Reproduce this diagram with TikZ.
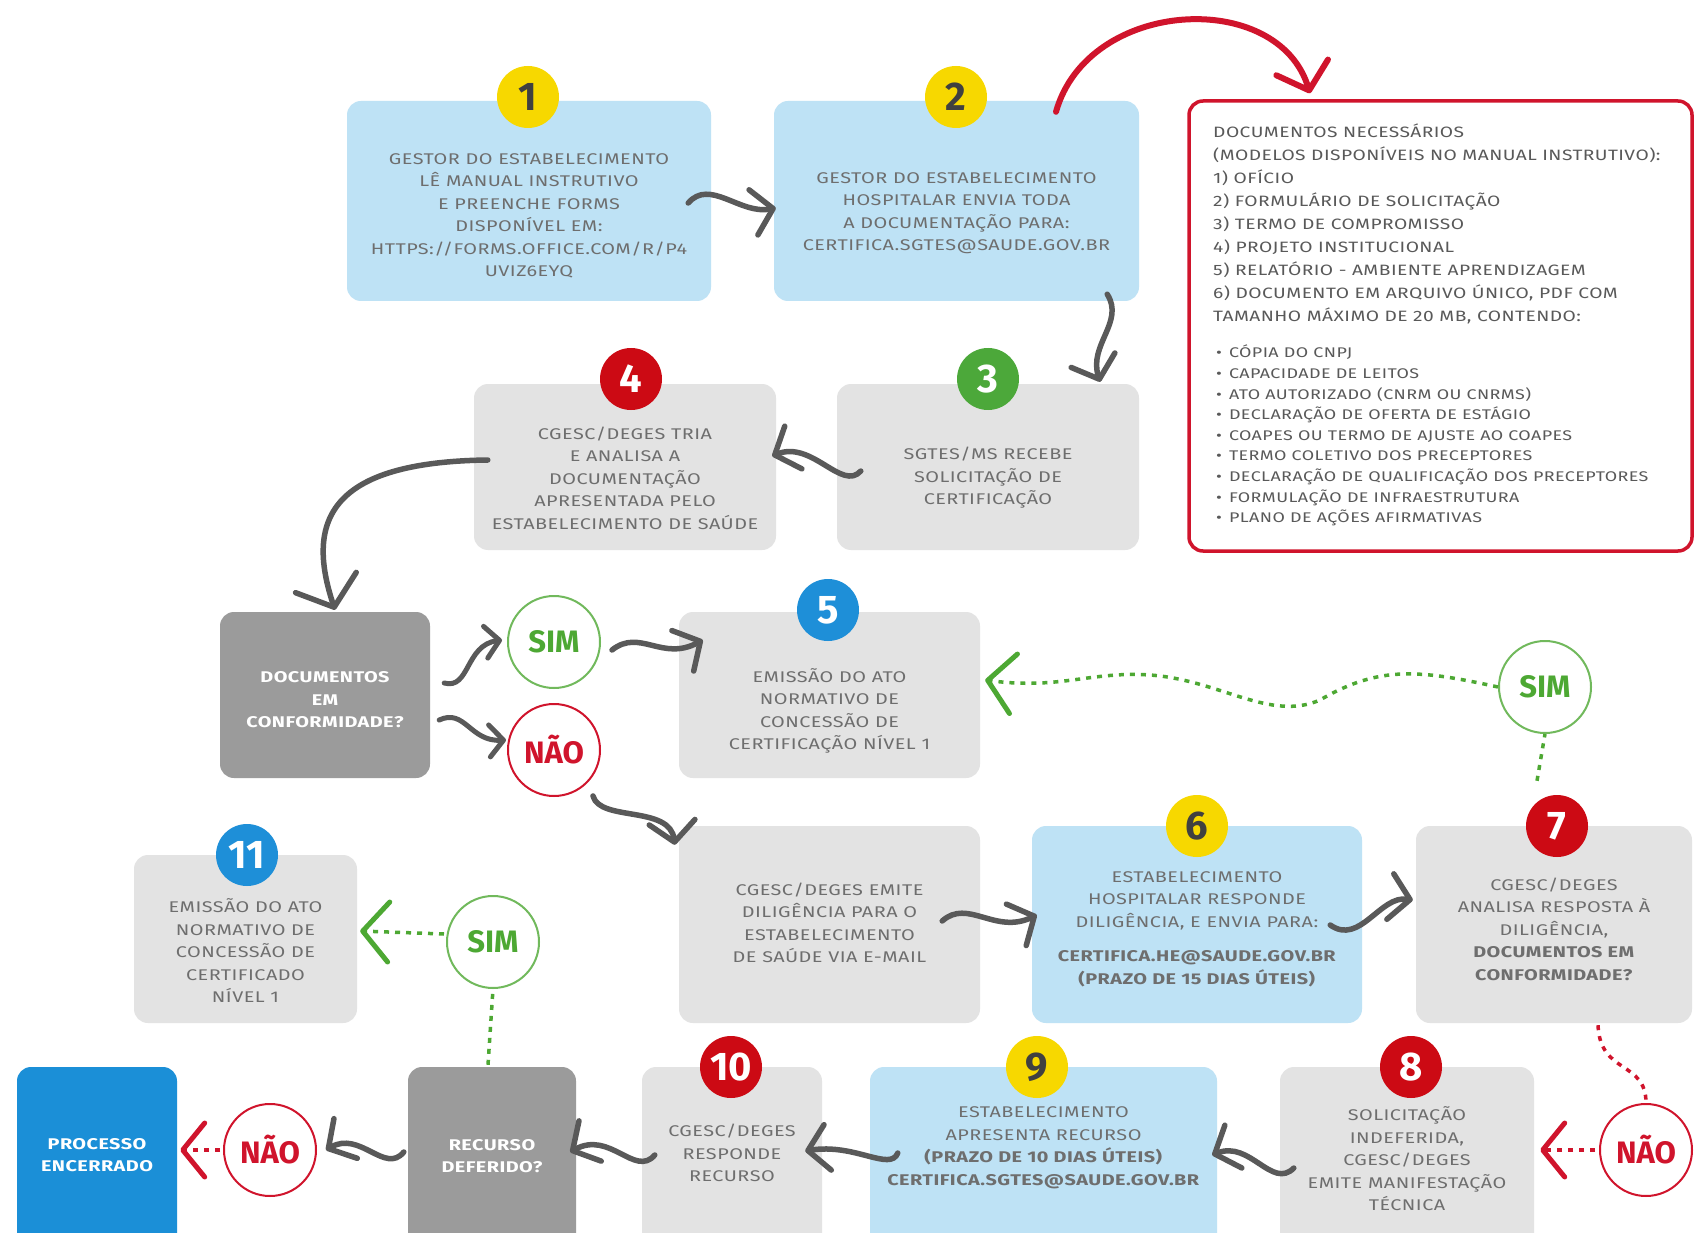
\documentclass[tikz,border=0pt]{standalone}
\usepackage{fontspec}
\setmainfont{Fira Sans}[FakeStretch=1.28,LetterSpace=3]
\newfontfamily\plainf{Fira Sans}
\usetikzlibrary{arrows.meta}
\definecolor{boxgray}{HTML}{E3E3E3}
\definecolor{boxblue}{HTML}{BEE2F5}
\definecolor{darkbox}{HTML}{9B9B9B}
\definecolor{peblue}{HTML}{1B8FD7}
\definecolor{txt}{HTML}{6E6E6E}
\definecolor{arr}{HTML}{595959}
\definecolor{myred}{HTML}{D0142C}
\definecolor{mygreen}{HTML}{4DA833}
\definecolor{myyellow}{HTML}{F7D800}
\definecolor{bred}{HTML}{CC0A14}
\definecolor{bgreen}{HTML}{4CA83A}
\definecolor{bblue}{HTML}{1E8FD8}
\begin{document}
\begin{tikzpicture}[x=1pt,y=-1pt,
  shapebox/.style={rounded corners=14pt,inner sep=0pt},
  graybox/.style={shapebox,fill=boxgray},
  bluebox/.style={shapebox,fill=boxblue},
  dkbox/.style={shapebox,fill=darkbox},
  pebox/.style={shapebox,fill=peblue},
  btext/.style={align=center,text=txt,font=\fontsize{15.5}{22.5}\selectfont,inner sep=0pt},
  wtext/.style={align=center,text=white,font=\fontsize{15.5}{22.5}\selectfont\bfseries,inner sep=0pt},
  badge/.style={circle,minimum size=62pt,inner sep=0pt,font=\plainf\fontsize{40}{40}\selectfont\bfseries},
  ybadge/.style={badge,fill=myyellow,text=black!75},
  rbadge/.style={badge,fill=bred,text=white},
  gbadge/.style={badge,fill=bgreen,text=white},
  bbadge/.style={badge,fill=bblue,text=white},
  yes/.style={circle,draw=mygreen!80,line width=2pt,fill=white,minimum size=92pt,inner sep=0pt,text=mygreen,font=\plainf\fontsize{31}{31}\selectfont\bfseries},
  no/.style={circle,draw=myred,line width=2pt,fill=white,minimum size=92pt,inner sep=0pt,text=myred,font=\plainf\fontsize{31}{31}\selectfont\bfseries},
  squig/.style={draw=arr,line width=5.5pt,line cap=round,-{Straight Barb[length=20pt,width=46pt,round]}},
  smallsquig/.style={draw=arr,line width=5pt,line cap=round,-{Straight Barb[length=14pt,width=32pt,round]}},
  gdots/.style={draw=mygreen,line width=3.5pt,dash pattern=on 5pt off 6pt},
  rdots/.style={draw=myred,line width=3.5pt,dash pattern=on 5pt off 6pt},
  gtip/.style={-{Straight Barb[length=26pt,width=60pt,round,line width=5pt]}},
  rtip/.style={-{Straight Barb[length=22pt,width=54pt,round,line width=5pt]}},
]
\useasboundingbox (0,0) rectangle (1698,1233);
\clip (0,0) rectangle (1698,1233);
\fill[white] (0,0) rectangle (1698,1233);

% ---------- boxes ----------
\node[bluebox,minimum width=364pt,minimum height=200pt] (b1) at (529,201) {};
\node[bluebox,minimum width=365pt,minimum height=200pt] (b2) at (956.5,201) {};
\node[shapebox,draw=myred,line width=3.5pt,fill=white,minimum width=503pt,minimum height=450pt] (req) at (1440.5,326) {};
\node[graybox,minimum width=302pt,minimum height=166pt] (b3) at (988,467) {};
\node[graybox,minimum width=302pt,minimum height=166pt] (b4) at (625,467) {};
\node[dkbox,minimum width=210pt,minimum height=166pt] (docs) at (325,695) {};
\node[graybox,minimum width=301pt,minimum height=166pt] (b5) at (829.5,695) {};
\node[graybox,minimum width=301pt,minimum height=197pt] (bemite) at (829.5,924.5) {};
\node[bluebox,minimum width=330pt,minimum height=197pt] (b6) at (1197,924.5) {};
\node[graybox,minimum width=276pt,minimum height=197pt] (b7) at (1554,924.5) {};
\node[graybox,minimum width=223pt,minimum height=168pt] (b11) at (245.5,939) {};
\node[pebox,minimum width=160pt,minimum height=180pt] (pe) at (97,1157) {};
\node[dkbox,minimum width=168pt,minimum height=180pt] (rec) at (492,1157) {};
\node[graybox,minimum width=180pt,minimum height=180pt] (b10) at (732,1157) {};
\node[bluebox,minimum width=347pt,minimum height=180pt] (b9) at (1043.5,1157) {};
\node[graybox,minimum width=254pt,minimum height=180pt] (b8) at (1407,1157) {};

% ---------- texts ----------
\node[btext] (t1) at (529,216) {GESTOR DO ESTABELECIMENTO\\LÊ MANUAL INSTRUTIVO\\E PREENCHE FORMS\\DISPONÍVEL EM:\\HTTPS://FORMS.OFFICE.COM/R/P4\\UVIZ6EYQ};
\node[btext] (t2) at (956.5,213) {GESTOR DO ESTABELECIMENTO\\HOSPITALAR ENVIA TODA\\A DOCUMENTAÇÃO PARA:\\CERTIFICA.SGTES@SAUDE.GOV.BR};
\node[btext] (t3) at (988,478) {SGTES/MS RECEBE\\SOLICITAÇÃO DE\\CERTIFICAÇÃO};
\node[btext] (t4) at (625,478) {CGESC/DEGES TRIA\\E ANALISA A\\DOCUMENTAÇÃO\\APRESENTADA PELO\\ESTABELECIMENTO DE SAÚDE};
\node[wtext] (tdocs) at (325,700) {DOCUMENTOS\\EM\\CONFORMIDADE?};
\node[btext] (t5) at (829.5,711) {EMISSÃO DO ATO\\NORMATIVO DE\\CONCESSÃO DE\\CERTIFICAÇÃO NÍVEL 1};
\node[btext] (temite) at (829.5,923) {CGESC/DEGES EMITE\\DILIGÊNCIA PARA O\\ESTABELECIMENTO\\DE SAÚDE VIA E-MAIL};
\node[btext] (t6) at (1197,929) {ESTABELECIMENTO\\HOSPITALAR RESPONDE\\DILIGÊNCIA, E ENVIA PARA:\\[12pt]\textbf{CERTIFICA.HE@SAUDE.GOV.BR}\\\textbf{(PRAZO DE 15 DIAS ÚTEIS)}};
\node[btext] (t7) at (1554,929) {CGESC/DEGES\\ANALISA RESPOSTA À\\DILIGÊNCIA,\\\textbf{DOCUMENTOS EM}\\\textbf{CONFORMIDADE?}};
\node[btext] (t11) at (245.5,951) {EMISSÃO DO ATO\\NORMATIVO DE\\CONCESSÃO DE\\CERTIFICADO\\NÍVEL 1};
\node[wtext] (tpe) at (97,1155) {PROCESSO\\ENCERRADO};
\node[wtext] (trec) at (492,1156) {RECURSO\\DEFERIDO?};
\node[btext] (t10) at (732,1153) {CGESC/DEGES\\RESPONDE\\RECURSO};
\node[btext] (t9) at (1043.5,1148) {ESTABELECIMENTO\\APRESENTA RECURSO\\\textbf{(PRAZO DE 10 DIAS ÚTEIS)}\\\textbf{CERTIFICA.SGTES@SAUDE.GOV.BR}};
\node[btext] (t8) at (1407,1159) {SOLICITAÇÃO\\INDEFERIDA,\\CGESC/DEGES\\EMITE MANIFESTAÇÃO\\TÉCNICA};

\node[anchor=north west,align=left,text=black!65,inner sep=0pt,font=\fontsize{15}{23}\selectfont] (treq) at (1213,124) {DOCUMENTOS NECESSÁRIOS\\(MODELOS DISPONÍVEIS NO MANUAL INSTRUTIVO):\\1) OFÍCIO\\2) FORMULÁRIO DE SOLICITAÇÃO\\3) TERMO DE COMPROMISSO\\4) PROJETO INSTITUCIONAL\\5) RELATÓRIO - AMBIENTE APRENDIZAGEM\\6) DOCUMENTO EM ARQUIVO ÚNICO, PDF COM\\TAMANHO MÁXIMO DE 20 MB, CONTENDO:};
\node[anchor=north west,align=left,text=black!65,inner sep=0pt,font=\fontsize{14}{20.6}\selectfont] (tlist) at (1216,345) {\textbullet\enspace CÓPIA DO CNPJ\\\textbullet\enspace CAPACIDADE DE LEITOS\\\textbullet\enspace ATO AUTORIZADO (CNRM OU CNRMS)\\\textbullet\enspace DECLARAÇÃO DE OFERTA DE ESTÁGIO\\\textbullet\enspace COAPES OU TERMO DE AJUSTE AO COAPES\\\textbullet\enspace TERMO COLETIVO DOS PRECEPTORES\\\textbullet\enspace DECLARAÇÃO DE QUALIFICAÇÃO DOS PRECEPTORES\\\textbullet\enspace FORMULAÇÃO DE INFRAESTRUTURA\\\textbullet\enspace PLANO DE AÇÕES AFIRMATIVAS};

% ---------- badges ----------
\node[ybadge] (n1) at (528,97) {1};
\node[ybadge] (n2) at (956,97) {2};
\node[gbadge] (n3) at (988,379) {3};
\node[rbadge] (n4) at (631,379) {4};
\node[bbadge] (n5) at (828,610) {5};
\node[ybadge] (n6) at (1197,826) {6};
\node[rbadge] (n7) at (1557,826) {7};
\node[bbadge] (n11) at (247,855) {11};
\node[rbadge] (n10) at (731,1067) {10};
\node[ybadge] (n9) at (1037,1067) {9};
\node[rbadge] (n8) at (1411,1067) {8};

% ---------- yes / no circles ----------
\node[yes] (sim1) at (554,642) {SIM};
\node[no] (nao1) at (554,750) {NÃO};
\node[yes] (sim2) at (1545,687) {SIM};
\node[yes] (sim3) at (493,942) {SIM};
\node[no] (nao2) at (270,1150) {NÃO};
\node[no] (nao3) at (1646,1150) {NÃO};

% ---------- connectors ----------
\draw[squig] ([shift={(-23,2)}]b1.east) .. controls (710,178) and (740,215) .. ([shift={(2,7)}]b2.west);
\draw[squig] ([shift={(-32,-7)}]b2.south east) .. controls (1125,322) and (1088,345) .. ([shift={(-39,-2)}]b3.north east);
\draw[squig] ([shift={(24,4)}]b3.west) .. controls (842,492) and (812,440) .. ([shift={(-4,-11)}]b4.east);
\draw[squig,-{Straight Barb[length=26pt,width=64pt,round]}] ([shift={(14,-7)}]b4.west) .. controls (330,462) and (305,520) .. ([shift={(10,-2)}]docs.north);
\draw[smallsquig] ([shift={(14,-12)}]docs.east) .. controls (470,690) and (465,645) .. ([shift={(-5,-2)}]sim1.west);
\draw[smallsquig] ([shift={(9,25)}]docs.east) .. controls (465,708) and (470,742) .. ([shift={(-1,-10)}]nao1.west);
\draw[squig] ([shift={(11,8)}]sim1.east) .. controls (640,628) and (662,662) .. ([shift={(24,-55)}]b5.west);
\draw[squig] ([shift={(39,-1)}]nao1.south) .. controls (600,822) and (670,805) .. ([shift={(-4,19)}]bemite.north west);
\draw[squig] ([shift={(-38,-3.5)}]bemite.east) .. controls (968,898) and (995,935) .. ([shift={(5,-9.5)}]b6.west);
\draw[squig] ([shift={(-32,0.5)}]b6.east) .. controls (1360,946) and (1380,895) .. ([shift={(-3,-24.5)}]b7.west);
\draw[squig] ([shift={(14,11)}]b8.west) .. controls (1272,1190) and (1250,1140) .. ([shift={(-5,-2)}]b9.east);
\draw[squig] ([shift={(28,-4)}]b9.west) .. controls (890,1172) and (855,1143) .. ([shift={(-17,-6)}]b10.east);
\draw[squig] ([shift={(13,-2)}]b10.west) .. controls (635,1178) and (610,1130) .. ([shift={(-6,-5)}]rec.east);
\draw[squig] ([shift={(-4,-5)}]rec.west) .. controls (385,1175) and (360,1130) .. ([shift={(9,0)}]nao2.east);

% red arc to requirements box
\draw[draw=myred,line width=6pt,line cap=round,-{Straight Barb[length=24pt,width=54pt,round]}] ([shift={(99.5,11)}]b2.north) .. controls (1088,-2) and (1278,-12) .. ([shift={(-130.5,-6)}]req.north);

% dotted connectors
\draw[rdots] ([shift={(44,2)}]b7.south) .. controls (1600,1075) and (1646,1060) .. (nao3.north);
\draw[rdots,rtip] ([shift={(-4,0)}]nao3.west) -- ([shift={(6,-7)}]b8.east);
\draw[rdots,rtip] ([shift={(-3,0)}]nao2.west) -- ([shift={(3,-7)}]pe.east);
\coordinate (c7top) at ([shift={(-17,-45)}]b7.north);
\draw[gdots] (c7top) -- (sim2.south);
\draw[gdots,gtip] (sim2.west) .. controls (1420,670) and (1380,665) .. (1320,700) .. controls (1270,722) and (1220,680) .. (1150,675) .. controls (1090,671) and (1060,690) .. ([shift={(5,-15)}]b5.east);
\draw[gdots] ([shift={(-4,-2)}]rec.north) -- (sim3.south);
\draw[gdots,gtip] ([shift={(-2,-8)}]sim3.west) -- ([shift={(3,-8)}]b11.east);
\end{tikzpicture}
\end{document}
